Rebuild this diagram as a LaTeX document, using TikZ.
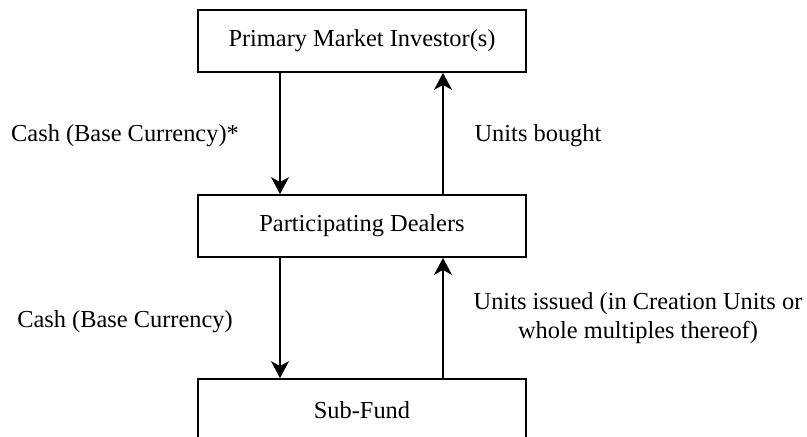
\documentclass[tikz,border=0pt]{standalone}
\usepackage{fontspec}
\setmainfont{Liberation Serif}
\usetikzlibrary{arrows.meta, positioning}

\begin{document}
\begin{tikzpicture}[x=0.5pt, y=-0.5pt,
    every node/.style={font=\fontsize{12.2}{14.5}\selectfont},
    party/.style={draw=black, line width=0.9pt, minimum width=164pt, minimum height=31pt, inner sep=0pt},
    flow/.style={draw=black, line width=0.9pt, -{Stealth[length=8.5pt, width=9pt, inset=2.5pt]}}]
  \useasboundingbox (0,0) rectangle (807,437);
  % Parties
  \node[party] (investor) at (362,41) {Primary Market Investor(s)};
  \node[party] (dealers) at (362,226) {Participating Dealers};
  \node[party] (fund) at (362,410) {Sub-Fund};
  % Cash flowing down
  \draw[flow] ([xshift=-41pt]investor.south) -- ([xshift=-41pt]dealers.north);
  \draw[flow] ([xshift=-41pt]dealers.south) -- ([xshift=-41pt]fund.north);
  % Units flowing up
  \draw[flow] ([xshift=40.5pt]dealers.north) -- ([xshift=40.5pt]investor.south);
  \draw[flow] ([xshift=40.5pt]fund.north) -- ([xshift=40.5pt]dealers.south);
  % Labels
  \node (cashtop) at (125,136) {Cash (Base Currency)*};
  \node (bought) at (538,136) {Units bought};
  \node (cashbot) at (125,322) {Cash (Base Currency)};
  \node[align=center] (issued) at (638,318) {Units issued (in Creation Units or\\whole multiples thereof)};
\end{tikzpicture}
\end{document}
